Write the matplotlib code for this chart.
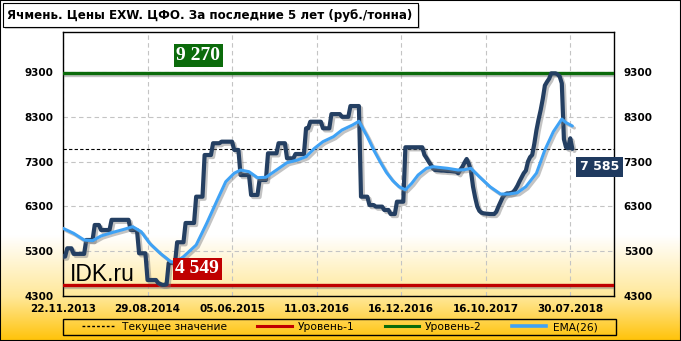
import numpy as np
import matplotlib
matplotlib.use('Agg')
import matplotlib.pyplot as plt
import matplotlib.patheffects as pe
from matplotlib.patches import Rectangle
from matplotlib.lines import Line2D

# ---------------- data ----------------
title = "Ячмень. Цены EXW. ЦФО. За последние 5 лет (руб./тонна)"
date_labels = ['22.11.2013', '29.08.2014', '05.06.2015', '11.03.2016',
               '16.12.2016', '16.10.2017', '30.07.2018']
tick_step = 40  # weeks between labelled dates

price = [
    5180, 5180,
    5365, 5365, 5365,
    5240, 5240, 5240, 5240, 5240, 5240,
    5550, 5550, 5550, 5550,
    5885, 5885, 5885,
    5773, 5773, 5773, 5773, 5773,
    6000, 6000, 6000, 6000, 6000, 6000, 6000, 6000, 6000,
    5773, 5773, 5773, 5773,
    5253, 5253, 5253, 5253,
    4657, 4657, 4657, 4657, 4657,
    4590, 4570, 4549, 4549, 4560,
    5036, 5036, 5036, 5036,
    5500, 5500, 5500, 5500,
    5930, 5930, 5930, 5930, 5930,
    6517, 6517, 6517, 6517,
    7447, 7447, 7447, 7447,
    7710, 7710, 7710, 7710,
    7745, 7745, 7745, 7745, 7745, 7745,
    7560, 7560, 7560,
    7000, 7000, 7000, 7000, 7000,
    6555, 6555, 6555, 6555,
    6890, 6890, 6890, 6890,
    7485, 7485, 7485, 7485, 7485,
    7710, 7710, 7710, 7710,
    7373, 7373, 7373, 7373,
    7470, 7470, 7470, 7470, 7470,
    8043, 8043,
    8190, 8190, 8190, 8190, 8190, 8190,
    8043, 8043, 8043, 8043,
    8360, 8360, 8360, 8360, 8360,
    8300, 8300, 8300, 8300,
    8540, 8540, 8540, 8540, 8540,
    6517, 6517, 6517, 6517,
    6330, 6330, 6330,
    6295, 6295, 6295, 6295,
    6220, 6220, 6220,
    6130, 6130, 6130,
    6405, 6405, 6405, 6405,
    7620, 7620, 7620, 7620, 7620, 7620, 7620, 7620,
    7620, 7450, 7380, 7300, 7230, 7150,
    7112, 7110, 7105, 7100, 7100, 7095, 7090, 7090, 7085, 7080, 7075,
    7040, 7120, 7186, 7280, 7358, 7250, 7100, 6740, 6500, 6300, 6200, 6160, 6145,
    6140, 6135, 6130, 6130, 6130,
    6180, 6295, 6400, 6500, 6560, 6590, 6590, 6600, 6620, 6680, 6760, 6860, 6950, 7040, 7100,
    7300, 7400, 7450, 7700, 8000, 8240, 8450, 8700, 9000, 9080, 9150, 9270, 9270, 9270,
    9250, 9200, 9048, 7800, 7620, 7600, 7820, 7585,
]

ema_idx = [0, 5, 10, 14, 18, 23, 29, 33, 37, 41, 46, 51, 53, 57, 63, 68, 73, 77, 81, 84,
           88, 92, 96, 101, 106, 111, 115, 119, 123, 128, 132, 137, 140, 144, 147, 150,
           153, 156, 159, 162, 165, 168, 172, 175, 182, 187, 190, 193, 197, 202, 207,
           211, 215, 219, 224, 228, 232, 236, 238, 241]
ema_val = [5811, 5700, 5550, 5535, 5640, 5713, 5790, 5847, 5735, 5475, 5253, 5066, 5050,
           5177, 5438, 5923, 6443, 6851, 7040, 7112, 7075, 6941, 6950, 7112, 7276, 7336,
           7410, 7597, 7745, 7857, 8005, 8117, 8200, 7857, 7560, 7300, 7060, 6875, 6740,
           6670, 6815, 7000, 7150, 7186, 7150, 7112, 7120, 7150, 6963, 6740, 6577, 6577,
           6606, 6740, 7040, 7560, 7967, 8250, 8170, 8095]

level1 = 4549
level2 = 9270
current = 7585
y_ticks = [4300, 5300, 6300, 7300, 8300, 9300]
legend_labels = ['Текущее значение', 'Уровень-1', 'Уровень-2', 'EMA(26)']

# ---------------- style ----------------
W, H = 681, 341
c_price = '#243f62'
c_ema = '#3fa2f5'
c_red = '#c00000'
c_green = '#0b6b0b'


def fmt(v):
    return f"{v:,}".replace(',', ' ')


fig = plt.figure(figsize=(W / 100, H / 100), dpi=100)

# background gradient (white -> gold at the bottom)
bg = fig.add_axes([0, 0, 1, 1], zorder=-10)
rows = np.arange(H)
stops_y = [0, 235, 296, 341]
cols = np.array([[1, 1, 1], [1, 1, 1], [1.0, 0.91, 0.60], [1.0, 0.76, 0.02]])
grad = np.stack([np.interp(rows, stops_y, cols[:, k]) for k in range(3)], axis=1)
img = np.repeat(grad[:, None, :], 2, axis=1)
bg.imshow(img, aspect='auto', extent=[0, 1, 0, 1], interpolation='bilinear')
bg.axis('off')

ax = fig.add_axes([63 / W, 1 - 296 / H, (614 - 63) / W, (296 - 32) / H])
ax.set_facecolor('none')

shadow = [pe.SimpleLineShadow(offset=(1.5, -1.5), shadow_color='#7a7a7a', alpha=0.45), pe.Normal()]

x = np.arange(len(price))
ax.axhline(current, color='black', lw=0.8, ls=(0, (3, 2)), zorder=2)
ax.axhline(level2, color=c_green, lw=2.4, path_effects=shadow, zorder=3)
ax.axhline(level1, color=c_red, lw=2.4, path_effects=shadow, zorder=3)
ax.plot(x, price, color=c_price, lw=3.0, solid_joinstyle='round', solid_capstyle='round',
        path_effects=shadow, zorder=4)
ax.plot(ema_idx, ema_val, color=c_ema, lw=2.2, solid_joinstyle='round', solid_capstyle='round',
        path_effects=shadow, zorder=5)

ax.set_xlim(0, 260.7)
ax.set_ylim(4300, 10193)

ax.set_xticks(np.arange(len(date_labels)) * tick_step)
ax.set_xticklabels(date_labels, fontweight='bold', fontsize=7.5)
ax.set_yticks(y_ticks)
ax.set_yticklabels([str(v) for v in y_ticks], fontweight='bold', fontsize=7.5)
ax.tick_params(axis='y', length=0, pad=7, left=False, right=False, labelleft=True, labelright=True)
ax.tick_params(axis='x', length=0, pad=6)
ax.grid(True, color='#c4c4c4', ls=(0, (4, 3)), lw=0.8)
ax.set_axisbelow(True)
for s in ax.spines.values():
    s.set_color('black')
    s.set_linewidth(1.0)

# value labels
ax.annotate(fmt(level2), xy=(64, level2), xytext=(0, 13), textcoords='offset points',
            ha='center', va='center', color='white', fontsize=14, fontweight='bold',
            family='Liberation Serif', zorder=10,
            bbox=dict(boxstyle='square,pad=0.14', fc=c_green, ec='none'))
ax.annotate(fmt(level1), xy=(63.5, level1), xytext=(0, 11.5), textcoords='offset points',
            ha='center', va='center', color='white', fontsize=14, fontweight='bold',
            family='Liberation Serif', zorder=10,
            bbox=dict(boxstyle='square,pad=0.14', fc=c_red, ec='none'))
ax.annotate(fmt(current), xy=(253.7, current), xytext=(0, -13), textcoords='offset points',
            ha='center', va='center', color='white', fontsize=9, fontweight='bold',
            family='DejaVu Sans', zorder=10, annotation_clip=False,
            bbox=dict(boxstyle='square,pad=0.3', fc='#1f3a5f', ec='none'))

ax.text(0.013, 0.058, 'IDK.ru', transform=ax.transAxes, fontsize=16.5,
        family='Liberation Sans', va='baseline', ha='left', zorder=6)

# legend
handles = [Line2D([], [], color='black', ls=(0, (2, 1.5)), lw=1.0),
           Line2D([], [], color=c_red, lw=2.2),
           Line2D([], [], color=c_green, lw=2.2),
           Line2D([], [], color=c_ema, lw=2.6)]
fig.legend(handles, legend_labels, loc='center', bbox_to_anchor=(339.5 / W, 1 - 327 / H),
           ncol=4, frameon=False, fontsize=7.7, handlelength=3.2, handletextpad=0.6,
           columnspacing=2.8)
fig.patches.append(Rectangle((63 / W, 1 - 335 / H), 553 / W, 16 / H, transform=fig.transFigure,
                             fill=False, ec='black', lw=1.0))

# title box
fig.patches.append(Rectangle((5 / W, 1 - 29 / H), 415 / W, 24 / H, transform=fig.transFigure,
                             fc='#b0b0b0', ec='none', alpha=0.6))
fig.patches.append(Rectangle((3 / W, 1 - 27 / H), 415 / W, 24 / H, transform=fig.transFigure,
                             fc='white', ec='black', lw=0.8))
fig.text(7 / W, 1 - 15 / H, title, fontsize=8.6, fontweight='bold', va='center', ha='left')

# outer border
fig.patches.append(Rectangle((0, 0), 1, 1, transform=fig.transFigure, fill=False,
                             ec='black', lw=1.5))

fig.savefig('out.png', dpi=100)
